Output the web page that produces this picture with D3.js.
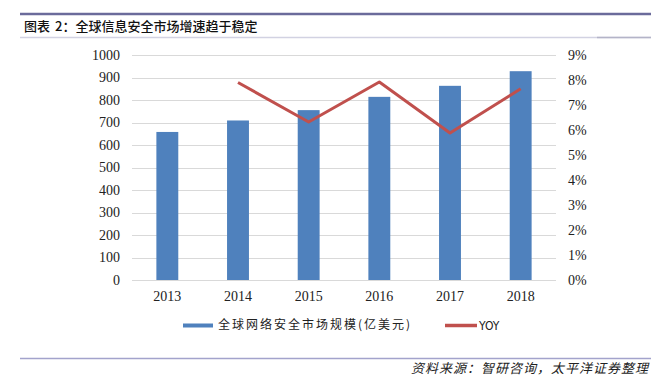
<!DOCTYPE html>
<html>
<head>
<meta charset="utf-8">
<script src="https://cdn.jsdelivr.net/npm/d3@7"></script>
<style>
  body { margin: 0; background: #fff; }
  svg { display: block; }
</style>
</head>
<body>
<div id="chart"></div>
<script>
const width = 651;
const height = 391;

const years = ["2013", "2014", "2015", "2016", "2017", "2018"];
const marketSize = [658, 709, 755, 814, 863, 928];
const yoyYears = ["2014", "2015", "2016", "2017", "2018"];
const yoy = [0.079, 0.0632, 0.0792, 0.0588, 0.0765];
const leftTicks = [0, 100, 200, 300, 400, 500, 600, 700, 800, 900, 1000];
const rightTicks = [0, 0.01, 0.02, 0.03, 0.04, 0.05, 0.06, 0.07, 0.08, 0.09];

const titleParts = ["图表", "2：全球信息安全市场增速趋于稳定"];
const barName = "全球网络安全市场规模(亿美元)";
const lineName = "YOY";
const source = "资料来源：智研咨询，太平洋证券整理";

const plot = { left: 132, right: 556, top: 55, bottom: 280 };

const svg = d3.select("#chart")
    .append("svg")
    .attr("width", width)
    .attr("height", height);

// header
svg.append("line")
    .attr("x1", 20).attr("x2", width)
    .attr("y1", 14).attr("y2", 14)
    .attr("stroke", "#6b6b9b").attr("stroke-width", 2.5);

const titleText = svg.append("text")
    .attr("x", 24).attr("y", 27)
    .attr("dominant-baseline", "middle")
    .style("font-family", "Noto Sans CJK SC")
    .style("font-size", "13px")
    .style("font-weight", 500)
    .attr("fill", "#111");
titleText.append("tspan").text(titleParts[0]);
titleText.append("tspan").attr("dx", 5).text(titleParts[1]);

svg.append("line")
    .attr("x1", 20).attr("x2", width)
    .attr("y1", 37.5).attr("y2", 37.5)
    .attr("stroke", "#d2d2e2").attr("stroke-width", 1.5);
svg.append("line")
    .attr("x1", 597).attr("x2", width)
    .attr("y1", 37.5).attr("y2", 37.5)
    .attr("stroke", "#b4b4c8").attr("stroke-width", 1.5);

const xScale = d3.scaleBand()
    .domain(years)
    .range([plot.left, plot.right])
    .paddingInner(0.69)
    .paddingOuter(0.345);

const yLeft = d3.scaleLinear()
    .domain([0, 1000])
    .range([plot.bottom, plot.top]);

const yRight = d3.scaleLinear()
    .domain([0, 0.09])
    .range([plot.bottom, plot.top]);

// gridlines
svg.append("g")
    .selectAll("line")
    .data(leftTicks)
    .join("line")
    .attr("x1", plot.left).attr("x2", plot.right)
    .attr("y1", d => Math.round(yLeft(d)) + 0.5)
    .attr("y2", d => Math.round(yLeft(d)) + 0.5)
    .attr("stroke", "#d9d9d9");

const serif = "'Liberation Serif', 'Times New Roman', serif";

function styleAxis(g) {
    g.select(".domain").remove();
    g.attr("font-family", null).attr("font-size", null);
    g.selectAll("text")
        .style("font-family", serif)
        .style("font-size", "14px")
        .attr("fill", "#222");
}

// left axis
svg.append("g")
    .attr("transform", `translate(${plot.left - 12},0)`)
    .call(d3.axisLeft(yLeft).tickValues(leftTicks).tickSize(0).tickPadding(0)
        .tickFormat(d3.format("d")))
    .call(styleAxis);

// right axis
svg.append("g")
    .attr("transform", `translate(${plot.right + 12},0)`)
    .call(d3.axisRight(yRight).tickValues(rightTicks).tickSize(0).tickPadding(0)
        .tickFormat(d3.format(".0%")))
    .call(styleAxis);

// x axis
svg.append("g")
    .attr("transform", `translate(0,${plot.bottom})`)
    .call(d3.axisBottom(xScale).tickSize(0).tickPadding(11))
    .call(styleAxis);

// bars
svg.append("g")
    .selectAll("rect")
    .data(marketSize)
    .join("rect")
    .attr("x", (d, i) => xScale(years[i]))
    .attr("y", d => yLeft(d))
    .attr("width", xScale.bandwidth())
    .attr("height", d => plot.bottom - yLeft(d))
    .attr("fill", "#4f81bd");

// yoy line
const line = d3.line()
    .x((d, i) => xScale(yoyYears[i]) + xScale.bandwidth() / 2)
    .y(d => yRight(d));

svg.append("path")
    .datum(yoy)
    .attr("d", line)
    .attr("fill", "none")
    .attr("stroke", "#c0504d")
    .attr("stroke-width", 3)
    .attr("stroke-linejoin", "round");

// legend
svg.append("rect")
    .attr("x", 183).attr("y", 323.5)
    .attr("width", 30).attr("height", 4)
    .attr("fill", "#4f81bd");
svg.append("text")
    .attr("x", 218).attr("y", 326)
    .attr("dominant-baseline", "middle")
    .style("font-family", "Noto Sans CJK SC")
    .style("font-size", "12px")
    .style("letter-spacing", "2px")
    .attr("fill", "#222")
    .text(barName);
svg.append("line")
    .attr("x1", 445).attr("x2", 477)
    .attr("y1", 325.5).attr("y2", 325.5)
    .attr("stroke", "#c0504d").attr("stroke-width", 3.5);
svg.append("text")
    .attr("x", 479).attr("y", 326)
    .attr("dominant-baseline", "middle")
    .style("font-family", "'DejaVu Sans Condensed', 'DejaVu Sans'")
    .style("font-size", "12px")
    .attr("fill", "#222")
    .text(lineName);

// footer
svg.append("line")
    .attr("x1", 20).attr("x2", width)
    .attr("y1", 358.5).attr("y2", 358.5)
    .attr("stroke", "#a3a3cc").attr("stroke-width", 1.5);

svg.append("text")
    .attr("x", 649).attr("y", 369)
    .attr("text-anchor", "end")
    .attr("dominant-baseline", "middle")
    .style("font-family", "Noto Sans CJK SC")
    .style("font-size", "13px")
    .style("font-style", "italic")
    .style("letter-spacing", "1px")
    .attr("fill", "#222")
    .text(source);
</script>
</body>
</html>
